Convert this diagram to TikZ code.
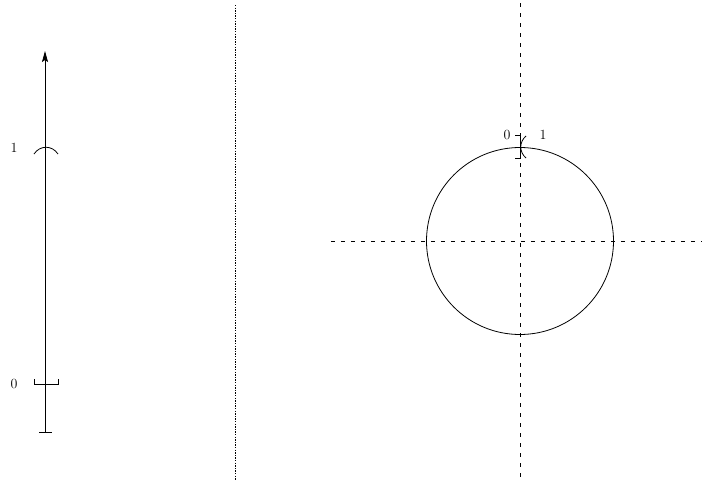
\documentclass[tikz,border=0pt]{standalone}
\usetikzlibrary{arrows.meta}
\begin{document}
\begin{tikzpicture}[x=1pt,y=-1pt,
  line/.style={line width=0.8pt},
  dashline/.style={line width=0.7pt,dash pattern=on 4pt off 6pt},
  dotline/.style={line width=0.8pt,dash pattern=on 1.3pt off 1.3pt},
  lbl/.style={inner sep=0pt,font=\fontsize{14}{16}\selectfont}]
\useasboundingbox (0,0) rectangle (705,482);
% left axis
\coordinate (axbot) at (45,432);
\coordinate (axtop) at (45,51);
\draw[line,-{Stealth[length=11pt,width=6pt,inset=2pt]}] (axbot) -- (axtop);
\draw[line] (39,432) -- (52,432);
% closed end at 0
\draw[line] (34,379) -- (34,384) -- (58,384) -- (58,379);
% open end at 1
\draw[line] (34,154) .. controls (40,145) and (52,145) .. (58,154);
\node[lbl] (zeroL) at (14,384) {0};
\node[lbl] (oneL) at (14,148) {1};
% separator
\coordinate (sepT) at (235,5);
\coordinate (sepB) at (235,480);
\draw[dotline] (sepT) -- (sepB);
% axes right
\coordinate (vT) at (520,3);
\coordinate (vB) at (520,480);
\coordinate (hL) at (331,241);
\coordinate (hR) at (702,241);
\draw[dashline] (vT) -- (vB);
\draw[dashline] (hL) -- (hR);
% circle
\node[draw,line,circle,minimum size=187pt,inner sep=0pt] (circ) at (520,241) {};
% closed end on circle
\draw[line] (515,135) -- (520,135) -- (520,158) -- (515,158);
% open end on circle
\draw[line] (526,136) .. controls (519,142) and (519,152) .. (526,158);
\node[lbl] (zeroC) at (507,135) {0};
\node[lbl] (oneC) at (543,135) {1};
\end{tikzpicture}
\end{document}
